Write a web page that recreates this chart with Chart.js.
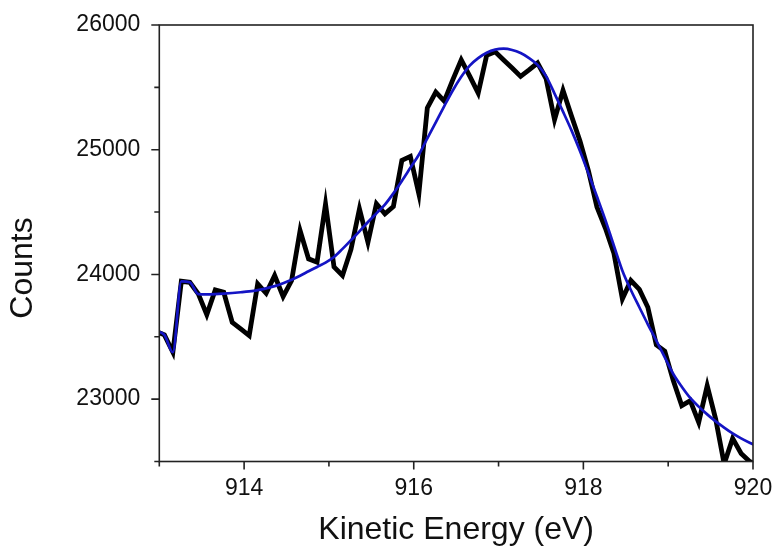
<!DOCTYPE html>
<html>
<head>
<meta charset="utf-8">
<script src="https://cdn.jsdelivr.net/npm/chart.js@4.4.1/dist/chart.umd.min.js"></script>
<style>
  html, body { margin: 0; padding: 0; background: #ffffff; }
  canvas { display: block; }
</style>
</head>
<body>
<canvas id="c" width="779" height="558"></canvas>
<script>
// Kinetic energy (eV) sample positions
const energy = [
  912.96, 913.06, 913.16, 913.26, 913.36, 913.46, 913.56, 913.66, 913.76, 913.86,
  913.96, 914.06, 914.16, 914.26, 914.36, 914.46, 914.56, 914.66, 914.76, 914.86,
  914.96, 915.06, 915.16, 915.26, 915.36, 915.46, 915.56, 915.66, 915.76, 915.86,
  915.96, 916.06, 916.16, 916.26, 916.36, 916.46, 916.56, 916.66, 916.76, 916.86,
  916.96, 917.06, 917.16, 917.26, 917.36, 917.46, 917.56, 917.66, 917.76, 917.86,
  917.96, 918.06, 918.16, 918.26, 918.36, 918.46, 918.56, 918.66, 918.76, 918.86,
  918.96, 919.06, 919.16, 919.26, 919.36, 919.46, 919.56, 919.66, 919.76, 919.86,
  919.96, 920.06
];
// Measured counts (black)
const counts = [
  23545, 23515, 23376, 23945, 23937, 23844, 23678, 23876, 23857, 23616,
  23563, 23510, 23925, 23849, 23991, 23823, 23951, 24352, 24125, 24098,
  24565, 24060, 23992, 24200, 24526, 24258, 24567, 24486, 24545, 24914,
  24946, 24647, 25335, 25462, 25390, 25560, 25720, 25590, 25454, 25757,
  25785, 25720, 25655, 25588, 25640, 25695, 25570, 25241, 25476, 25270,
  25070, 24830, 24540, 24370, 24170, 23804, 23951, 23880, 23737, 23435,
  23385, 23149, 22948, 22988, 22814, 23108, 22840, 22480, 22685, 22565,
  22500, 22470
];
// Fit curve (blue)
const fit = [
  23545, 23515, 23376, 23945, 23937, 23842, 23840, 23842, 23846, 23851,
  23857, 23864, 23874, 23888, 23906, 23930, 23958, 23990, 24025, 24060,
  24095, 24140, 24205, 24275, 24345, 24420, 24490, 24560, 24650, 24750,
  24855, 24960, 25090, 25220, 25350, 25475, 25585, 25675, 25735, 25778,
  25803, 25810, 25800, 25775, 25735, 25680, 25590, 25450, 25305, 25155,
  24990, 24810, 24625, 24435, 24230, 24030, 23875, 23737, 23600, 23470,
  23335, 23202, 23100, 23010, 22940, 22878, 22822, 22772, 22725, 22685,
  22650, 22620
];
const xTickLabels = [914, 916, 918, 920];
const yTickLabels = [23000, 24000, 25000, 26000];
const xTitle = 'Kinetic Energy (eV)';
const yTitle = 'Counts';

const FONT = '"Liberation Sans", Arial, sans-serif';

const tickPlugin = {
  id: 'ticksAndFrame',
  afterDraw(chart) {
    const ctx = chart.ctx;
    const a = chart.chartArea;
    const xs = chart.scales.x, ys = chart.scales.y;
    ctx.save();
    ctx.strokeStyle = '#222';
    ctx.lineWidth = 1.6;
    ctx.strokeRect(a.left, a.top, a.right - a.left, a.bottom - a.top);
    ctx.beginPath();
    xs.ticks.forEach(t => {
      const px = xs.getPixelForValue(t.value);
      const len = xTickLabels.includes(t.value) ? 8 : 5;
      ctx.moveTo(px, a.bottom);
      ctx.lineTo(px, a.bottom + len);
    });
    ys.ticks.forEach(t => {
      const py = ys.getPixelForValue(t.value);
      const len = yTickLabels.includes(t.value) ? 8 : 5;
      ctx.moveTo(a.left, py);
      ctx.lineTo(a.left - len, py);
    });
    ctx.stroke();
    // y-axis title, placed as in the reference (slightly below the axis centre)
    ctx.translate(23, 268);
    ctx.rotate(-Math.PI / 2);
    ctx.fillStyle = '#111';
    ctx.font = '32px ' + FONT;
    ctx.textAlign = 'center';
    ctx.textBaseline = 'middle';
    ctx.fillText(yTitle, 0, 0);
    ctx.restore();
  }
};

new Chart(document.getElementById('c'), {
  type: 'line',
  data: {
    datasets: [
      {
        label: 'Fit',
        data: energy.map((e, i) => ({ x: e, y: fit[i] })),
        borderColor: '#1414c4',
        borderWidth: 2.7,
        pointRadius: 0,
        cubicInterpolationMode: 'monotone',
        fill: false,
        clip: 0
      },
      {
        label: 'Data',
        data: energy.map((e, i) => ({ x: e, y: counts[i] })),
        borderColor: '#000000',
        borderWidth: 4.8,
        pointRadius: 0,
        tension: 0,
        fill: false,
        clip: 0
      }
    ]
  },
  options: {
    responsive: false,
    animation: false,
    events: [],
    layout: { padding: { left: 0, right: 26, top: 25, bottom: 0 } },
    plugins: { legend: { display: false }, tooltip: { enabled: false } },
    scales: {
      x: {
        type: 'linear',
        min: 913, max: 920,
        grid: { display: false, drawTicks: false },
        border: { display: false },
        ticks: {
          stepSize: 1,
          padding: 13,
          color: '#111',
          font: { family: FONT, size: 23 },
          maxRotation: 0,
          autoSkip: false,
          callback: v => xTickLabels.includes(v) ? String(v) : ''
        },
        title: {
          display: true,
          text: xTitle,
          color: '#111',
          font: { family: FONT, size: 32 },
          padding: { top: 0, bottom: 9 }
        },
        afterFit: s => { s.height = 96.5; s.paddingLeft = 0; s.paddingRight = 0; }
      },
      y: {
        type: 'linear',
        min: 22500, max: 26000,
        grid: { display: false, drawTicks: false },
        border: { display: false },
        ticks: {
          stepSize: 500,
          padding: 19,
          color: '#111',
          font: { family: FONT, size: 23 },
          autoSkip: false,
          callback: v => yTickLabels.includes(v) ? String(v) : ''
        },
        title: { display: false },
        afterFit: s => { s.width = 159.3; s.paddingTop = 0; s.paddingBottom = 0; }
      }
    }
  },
  plugins: [tickPlugin]
});
</script>
</body>
</html>
